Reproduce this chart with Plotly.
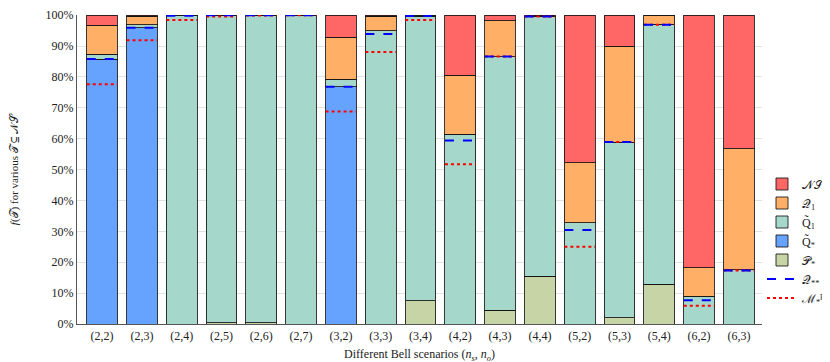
import plotly.graph_objects as go

# scenarios (n_s, n_o)
scenarios = ["(2,2)", "(2,3)", "(2,4)", "(2,5)", "(2,6)", "(2,7)", "(3,2)", "(3,3)", "(3,4)",
             "(4,2)", "(4,3)", "(4,4)", "(5,2)", "(5,3)", "(5,4)", "(6,2)", "(6,3)"]

# stacked shares in %, bottom to top
p_star = [0, 0, 0, 0.4, 0.4, 0, 0, 0, 7.5, 0, 4.5, 15.5, 0, 2.1, 12.9, 0, 0]
qt_star = [85.8, 95.9, 0, 0, 0, 0, 76.9, 0, 0, 0, 0, 0, 0, 0, 0, 0, 0]
qt_1 = [1.5, 1.0, 99.8, 99.6, 99.6, 100, 2.4, 95.0, 92.2, 61.4, 82.1, 84.2, 32.8, 56.8, 84.1, 9.0, 17.5]
q_1 = [9.4, 2.8, 0.2, 0, 0, 0, 13.5, 4.7, 0.3, 19.2, 11.6, 0.3, 19.4, 31.1, 3.0, 9.2, 39.3]
ns = [3.3, 0.3, 0, 0, 0, 0, 7.2, 0.3, 0, 19.4, 1.8, 0, 47.8, 10.0, 0, 81.8, 43.2]

# reference levels
q_starstar = [85.8, 95.9, 99.8, 100, 100, 100, 76.8, 93.9, 99.7, 59.4, 86.6, 99.6, 30.4, 58.9, 96.9, 7.7, 17.3]
m_star_p = [77.6, 91.9, 98.4, 99.6, 99.9, 100, 68.8, 88.1, 98.4, 51.7, 86.6, 99.6, 25.0, 58.9, 96.9, 5.9, 17.3]

ytick_vals = [0, 10, 20, 30, 40, 50, 60, 70, 80, 90, 100]

BAR_W = 0.77
FONT = "Liberation Serif"

fig = go.Figure()

stack = [
    (p_star, "𝒫<sub>*</sub>", "#c6d4a6", 5),
    (qt_star, "Q̃<sub>*</sub>", "#66a3ff", 4),
    (qt_1, "Q̃<sub>1</sub>", "#a5d8cb", 3),
    (q_1, "𝒬<sub>1</sub>", "#ffb066", 2),
    (ns, "𝒩𝒮", "#ff6666", 1),
]
xs = list(range(len(scenarios)))
for vals, name, col, rank in stack:
    fig.add_trace(go.Bar(x=xs, y=vals, name=name, width=BAR_W, legendrank=rank,
                         marker=dict(color=col, line=dict(color="rgba(20,20,20,0.85)", width=1))))


def segments(levels):
    sx, sy = [], []
    for i, v in enumerate(levels):
        sx += [i - BAR_W / 2, i + BAR_W / 2, None]
        sy += [v, v, None]
    return sx, sy


mx, my = segments(m_star_p)
qx, qy = segments(q_starstar)
fig.add_trace(go.Scatter(x=mx, y=my, mode="lines", name="ℳ<sub>*</sub><sup>p</sup>", legendrank=7,
                         line=dict(color="#ff0000", width=2, dash="dot")))
fig.add_trace(go.Scatter(x=qx, y=qy, mode="lines", name="𝒬<sub>**</sub>", legendrank=6,
                         line=dict(color="#0000ff", width=2, dash="dash")))

fig.update_layout(
    barmode="stack",
    width=830, height=362,
    margin=dict(l=69, r=66, t=7, b=46),
    plot_bgcolor="white", paper_bgcolor="white",
    font=dict(family=FONT, size=12, color="#222"),
    legend=dict(x=1.0, y=0.50, xanchor="left", yanchor="top", traceorder="normal",
                font=dict(size=12), tracegroupgap=0, itemwidth=30, bgcolor="rgba(0,0,0,0)"),
)
fig.update_xaxes(range=[-0.63, 16.58], tickmode="array", tickvals=xs, ticktext=scenarios,
                 showgrid=False, showline=True, linecolor="#555", linewidth=1.2, ticks="",
                 zeroline=False, automargin=False,
                 title=dict(text="Different Bell scenarios (<i>n<sub>s</sub></i>, <i>n<sub>o</sub></i>)",
                            font=dict(size=12), standoff=8))
fig.update_yaxes(range=[0, 100.05], tickmode="array", tickvals=ytick_vals,
                 ticktext=[f"{v}%" for v in ytick_vals], ticklabeloverflow="allow",
                 showgrid=True, gridcolor="#e2e2e2", automargin=False,
                 showline=True, linecolor="#555", linewidth=1.2, zeroline=False,
                 title=dict(text="<i>f</i>(𝒯) for various 𝒯 ⊆ 𝒩𝒮", font=dict(size=11), standoff=24))

fig.write_html("out.html")
